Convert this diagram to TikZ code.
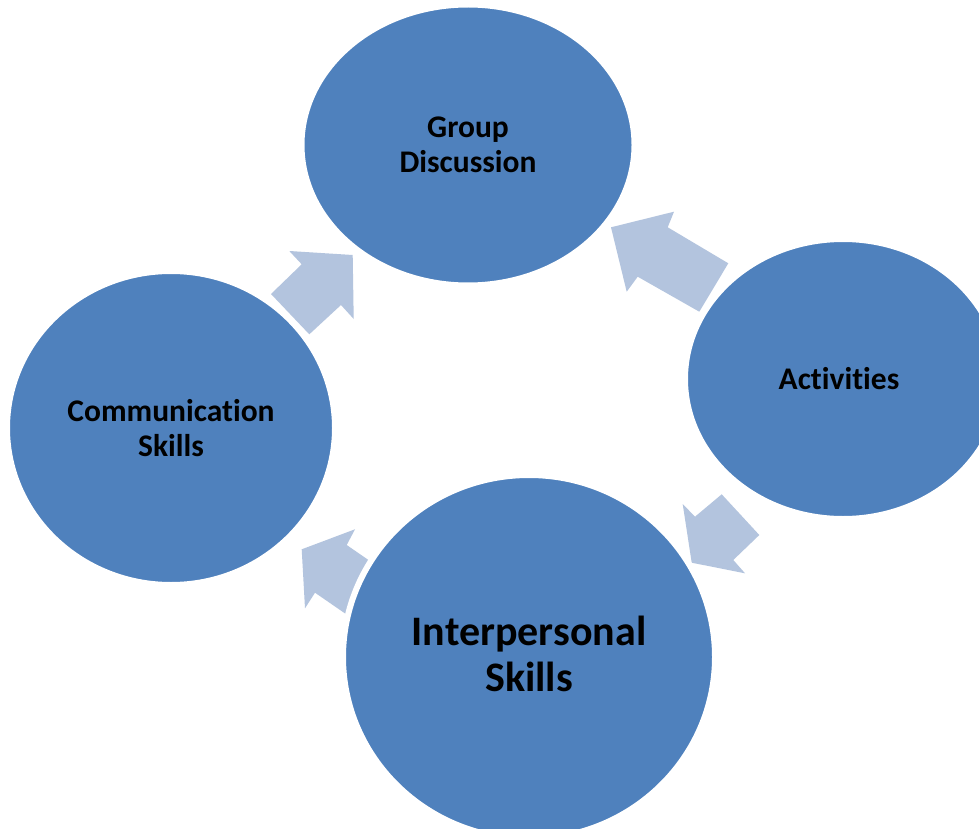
\documentclass[tikz,border=0pt]{standalone}
\usepackage{fontspec}
\setmainfont{Carlito}[Ligatures=NoCommon]
\usetikzlibrary{shapes.geometric}
\definecolor{bubble}{RGB}{79,129,189}
\definecolor{flowarrow}{RGB}{179,196,222}
\tikzset{
  bubble/.style={ellipse, fill=bubble, draw=white, line width=6pt, inner sep=0pt,
    align=center, text=black, font=\bfseries\fontsize{31.5}{34.5}\selectfont},
  bigtext/.style={align=center, text=black, font=\bfseries\fontsize{42}{46.5}\selectfont},
  flow/.style={fill=flowarrow, draw=none}
}
\begin{document}
\begin{tikzpicture}[x=1pt,y=-1pt]
  \useasboundingbox (0,0) rectangle (979,829);
  \fill[white] (0,0) rectangle (979,829);
  \clip (0,0) rectangle (979,829);

  % block arrows of the cycle (drawn first, the bubbles sit on top)
  \fill[flow] (271,294) -- (301.7,264.3) -- (289.3,251) -- (352.7,255)
              -- (353.7,319) -- (341,305) -- (309.3,334.3) -- cycle;
  \fill[flow] (728.3,263.3) -- (667.7,227.3) -- (674,211.7) -- (611,227.3)
              -- (626.7,291.7) -- (637.7,276.7) -- (699.3,311.7) -- cycle;
  \fill[flow] (721.7,494.3) -- (695,516.7) -- (682.7,504) -- (691.7,562.7)
              -- (745,573.3) -- (733.3,560) -- (759.3,535) -- cycle;
  \fill[flow] (379.6,567.7) -- (346.7,545) -- (355,529.3) -- (301.7,549.3)
              -- (305,608.3) -- (315,592.7) -- (347.9,615.4) -- cycle;

  % the four stages
  \node[bubble, minimum width=333pt, minimum height=281pt] (group) at (468,145)
       {Group\\Discussion};
  \node[bubble, minimum width=316pt, minimum height=280pt] (act) at (843,379)
       {\hspace*{-8pt}Activities};
  \node[bubble, minimum width=372pt, minimum height=364pt] (inter) at (529,657) {};
  \node[bigtext] (interlabel) at (529,654) {Interpersonal\\Skills};
  \node[bubble, minimum width=328pt, minimum height=314pt] (comm) at (171,428)
       {Communication\\Skills};
\end{tikzpicture}
\end{document}
